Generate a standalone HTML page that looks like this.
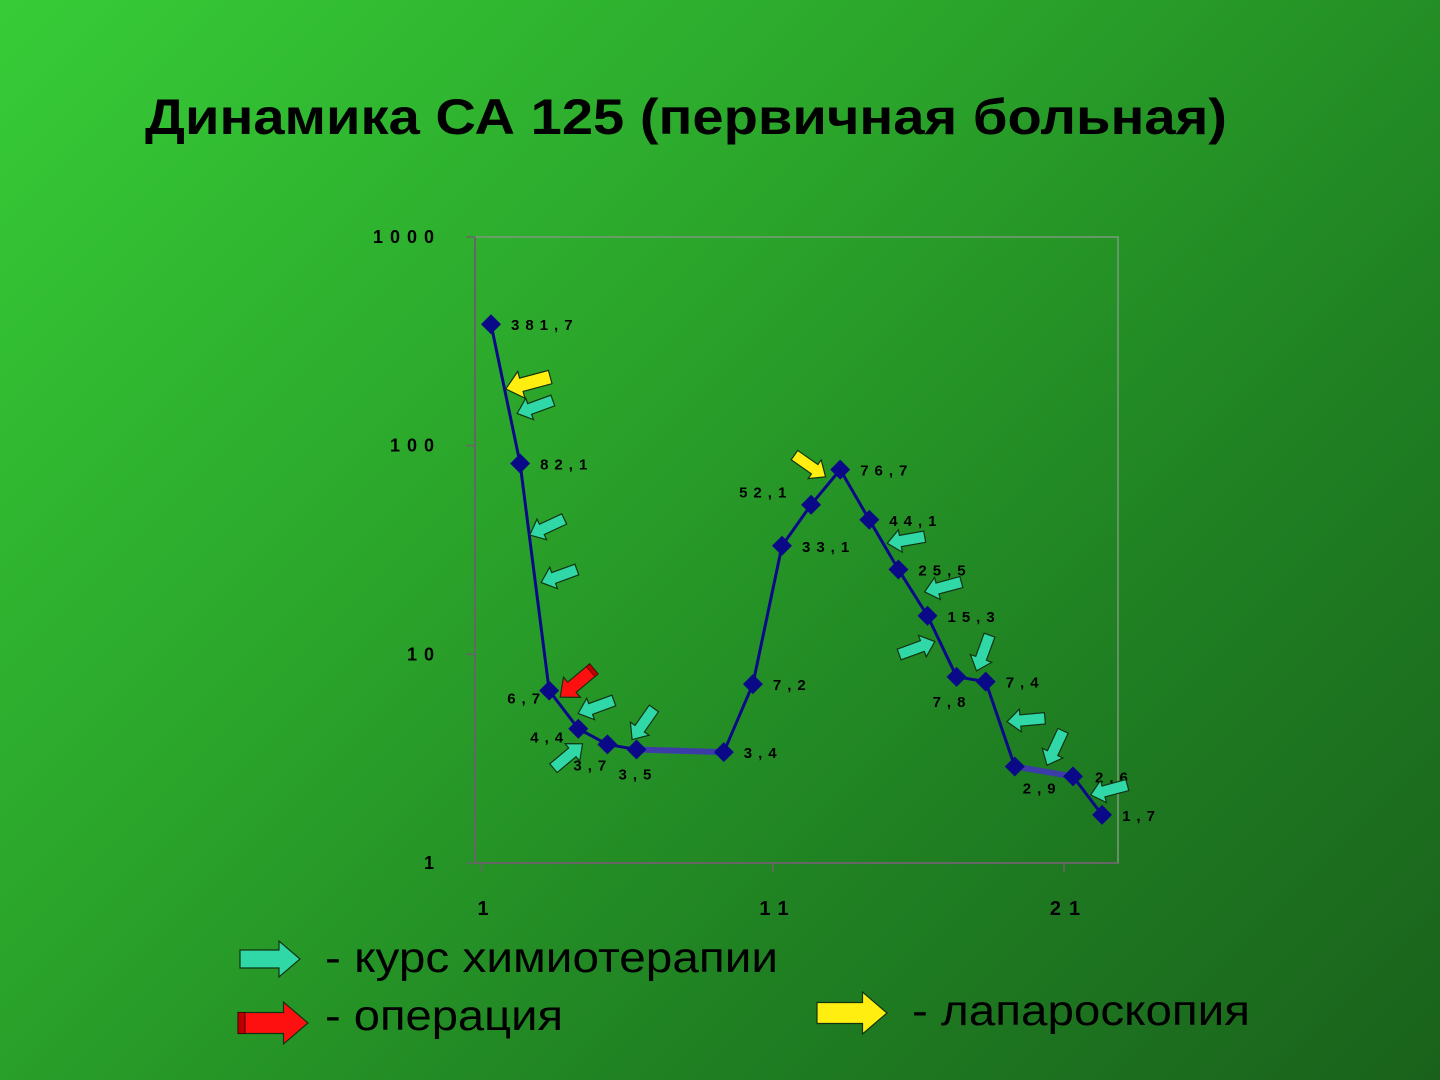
<!DOCTYPE html>
<html><head><meta charset="utf-8"><style>
html,body{margin:0;padding:0;width:1440px;height:1080px;overflow:hidden}
body{background:linear-gradient(135deg,#37cc37 0%,#2aa32a 40%,#1f7f22 70%,#1a621c 100%);font-family:"Liberation Sans",sans-serif}
svg{position:absolute;left:0;top:0}
</style></head><body>
<svg width="1440" height="1080">
<text x="145" y="134" font-size="50" font-weight="bold" textLength="1082" lengthAdjust="spacingAndGlyphs" fill="#000">Динамика СА 125 (первичная больная)</text>
<g id="axes"></g>
<g id="series"></g>
<g id="arrows"></g>
<g id="legend">
<text x="325" y="972" font-size="43" fill="#000" textLength="453" lengthAdjust="spacingAndGlyphs">- курс химиотерапии</text>
<text x="325" y="1030" font-size="43" fill="#000" textLength="238" lengthAdjust="spacingAndGlyphs">- операция</text>
<text x="912" y="1025" font-size="43" fill="#000" textLength="338" lengthAdjust="spacingAndGlyphs">- лапароскопия</text>
</g>
</svg>
<script>
const categories=[0,1,2,3,4,5,8,9,10,11,12,13,14,15,16,17,18,20,21];
const values=[381.7,82.1,6.7,4.4,3.7,3.5,3.4,7.2,33.1,52.1,76.7,44.1,25.5,15.3,7.8,7.4,2.9,2.6,1.7];
const valueLabels=["381,7","82,1","6,7","4,4","3,7","3,5","3,4","7,2","33,1","52,1","76,7","44,1","25,5","15,3","7,8","7,4","2,9","2,6","1,7"];
const yTicks=[1,10,100,1000];
const xTicks=[0,10,20];
const xTickLabels=["1","11","21"];
const NS="http://www.w3.org/2000/svg";
function xs(k){return 491+k*29.1;}
function ys(v){return 863-Math.log10(v)*208.7;}
function mk(tag,attrs,parent){const e=document.createElementNS(NS,tag);for(const k in attrs)e.setAttribute(k,attrs[k]);parent.appendChild(e);return e;}
const axes=document.getElementById('axes');
let e=mk('rect',{x:475,y:237,width:643,height:626,fill:'none',stroke:'#7a9a7a','stroke-width':1.5},axes);


e=mk('line',{x1:475,y1:237,x2:475,y2:863,stroke:'#666','stroke-width':2},axes);


e=mk('line',{x1:475,y1:863,x2:1118,y2:863,stroke:'#666','stroke-width':2},axes);


yTicks.forEach(t=>{
 const y=ys(t);
 mk('line',{x1:466,y1:y,x2:475,y2:y,stroke:'#666','stroke-width':1.5},axes);
 const tx=mk('text',{x:441,y:y+6,'font-size':18,'font-weight':'bold','text-anchor':'end','letter-spacing':'7',fill:'#000'},axes);
 tx.textContent=String(t);
 
 
});
xTicks.forEach((t,i)=>{
 const x=xs(t);
 mk('line',{x1:x-9,y1:863,x2:x-9,y2:872,stroke:'#666','stroke-width':1.5},axes);
 const tx=mk('text',{x:x-4,y:915,'font-size':20,'font-weight':'bold','text-anchor':'middle','letter-spacing':'8',fill:'#000'},axes);
 tx.textContent=xTickLabels[i];
 
 
});
const ser=document.getElementById('series');
for(let i=1;i<categories.length;i++){
 const gap=categories[i]-categories[i-1]>1;
 const l=mk('line',{x1:xs(categories[i-1]),y1:ys(values[i-1]),x2:xs(categories[i]),y2:ys(values[i]),stroke:gap?'#3d3da8':'#0a0a88','stroke-width':gap?6:3},ser);
 
 
}
const labOff={2:[-42,13],3:[-48,14],4:[-34,26],5:[-18,30],9:[-72,-7],14:[-24,30],16:[8,27],17:[22,6]};
categories.forEach((c,i)=>{
 const x=xs(c),y=ys(values[i]);
 const p=mk('polygon',{points:`${x},${y-10} ${x+10},${y} ${x},${y+10} ${x-10},${y}`,fill:'#0a0a88'},ser);
 
 
 const o=labOff[i]||[20,6];
 const t=mk('text',{x:x+o[0],y:y+o[1],'font-size':15,'font-weight':'bold','letter-spacing':'6',fill:'#000'},ser);
 t.textContent=valueLabels[i];
 
 
});
const arr=document.getElementById('arrows');
function arrow(cx,cy,ang,col,s,name,parent){
 const g=mk('g',{transform:`translate(${cx},${cy}) rotate(${ang}) scale(${s})`},parent);
 
 
 mk('polygon',{points:'-20,-6 6,-6 6,-12 20,0 6,12 6,6 -20,6',fill:col,stroke:'#113311','stroke-width':1.2/s},g);
 if(col==='#ff1010'){mk('rect',{x:-20,y:-6,width:4,height:12,fill:'#b00',stroke:'#400','stroke-width':0.5},g);}
}
const ar=[[528,383,165,'#ffee10',1.15,'laparoscopy-arrow'],[535,407,160,'#30d8a8',0.95,'chemo-arrow'],[547,527,155,'#30d8a8',0.95,'chemo-arrow'],[559,576,160,'#30d8a8',0.95,'chemo-arrow'],[577,683,140,'#ff1010',1.1,'operation-arrow'],[596,707,160,'#30d8a8',0.95,'chemo-arrow'],[643,724,125,'#30d8a8',0.95,'chemo-arrow'],[568,756,-40,'#30d8a8',0.95,'chemo-arrow'],[810,466,35,'#ffee10',0.95,'laparoscopy-arrow'],[906,540,170,'#30d8a8',0.95,'chemo-arrow'],[943,587,165,'#30d8a8',0.95,'chemo-arrow'],[917,648,-20,'#30d8a8',0.95,'chemo-arrow'],[983,653,110,'#30d8a8',0.95,'chemo-arrow'],[1026,720,175,'#30d8a8',0.95,'chemo-arrow'],[1055,748,115,'#30d8a8',0.95,'chemo-arrow'],[1109,790,165,'#30d8a8',0.95,'chemo-arrow']];
ar.forEach(a=>arrow(a[0],a[1],a[2],a[3],a[4],a[5],arr));
const lg=document.getElementById('legend');
arrow(270,959,0,'#30d8a8',1.5,'legend-chemo-arrow',lg);
arrow(273,1023,0,'#ff1010',1.75,'legend-operation-arrow',lg);
arrow(852,1013,0,'#ffee10',1.75,'legend-laparoscopy-arrow',lg);
</script>
</body></html>
